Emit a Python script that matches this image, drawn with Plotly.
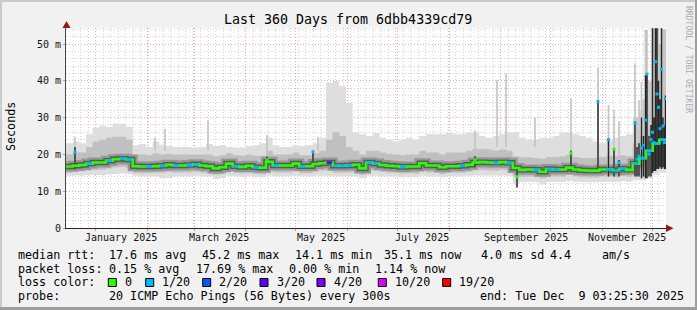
import plotly.graph_objects as go
from datetime import datetime, timedelta

# ---------------- data ----------------
START = datetime(2024, 12, 14, 3, 25, 30)
END = datetime(2025, 12, 9, 3, 25, 30)

# sample days (offset from START), 4-day steps
day = list(range(0, 361, 4))

rtt_median = [16.7, 16.9, 17.1, 17.5, 17.8, 17.8, 18.3, 18.7, 18.8, 18.6,
              16.8, 16.7, 16.7, 16.8, 16.9, 17.2, 17.0, 17.0, 17.1, 17.3,
              17.0, 16.8, 16.2, 16.5, 17.5, 16.8, 16.6, 16.9, 16.5, 16.4,
              18.0, 17.0, 17.0, 17.0, 17.5, 16.8, 16.8, 17.4, 17.6, 17.8,
              16.9, 16.9, 17.0, 17.2, 16.2, 17.8, 17.5, 17.1, 16.9, 16.8,
              16.6, 16.7, 16.7, 17.6, 17.0, 17.0, 16.5, 16.8, 16.8, 16.9,
              17.2, 17.8, 17.9, 17.8, 17.7, 17.9, 17.7, 16.3, 15.8, 15.9,
              15.8, 15.3, 16.0, 15.9, 15.9, 16.4, 15.9, 15.7, 15.6, 15.6,
              15.9, 15.9, 15.7, 16.1, 15.8, 17.5, 19.0, 21.0, 23.0, 24.0, 24.0]

rtt_hi = [23.0, 23.5, 23.0, 25.5, 27.3, 27.8, 27.5, 28.4, 28.3, 27.5,
          22.5, 22.8, 22.0, 23.5, 22.6, 22.3, 22.0, 22.0, 22.0, 21.8,
          22.0, 22.8, 22.3, 22.5, 22.0, 21.8, 21.8, 22.3, 22.5, 23.0,
          24.5, 22.5, 22.0, 22.0, 22.5, 22.3, 22.5, 23.0, 24.5, 39.5,
          40.0, 38.5, 34.0, 26.0, 25.5, 25.0, 25.8, 24.5, 24.0, 23.5,
          24.0, 24.5, 24.0, 25.0, 25.5, 25.5, 25.5, 25.8, 25.5, 25.5,
          25.8, 26.0, 25.0, 24.5, 25.0, 25.5, 26.0, 26.0, 24.5, 24.0,
          24.0, 24.5, 24.5, 25.0, 26.0, 26.0, 25.5, 25.0, 24.5, 23.5,
          23.0, 24.0, 24.5, 25.0, 25.5, 30.0, 32.0, 33.0, 34.0, 36.0, 36.0]

rtt_hi_mid = [20.0, 20.5, 20.5, 22.0, 23.5, 24.0, 24.5, 24.8, 24.8, 24.0,
              20.0, 20.0, 19.8, 20.3, 20.0, 20.2, 20.0, 20.0, 20.0, 20.0,
              20.0, 20.0, 19.5, 19.8, 20.3, 19.8, 19.6, 20.0, 19.6, 19.6,
              21.0, 20.0, 20.0, 20.0, 20.5, 19.8, 19.8, 20.3, 21.0, 24.0,
              26.0, 25.0, 22.0, 21.0, 20.0, 21.0, 21.0, 20.5, 20.2, 20.0,
              19.8, 20.0, 20.0, 21.0, 20.5, 20.5, 20.0, 20.5, 20.5, 20.5,
              21.0, 21.5, 21.5, 21.3, 21.0, 21.3, 21.0, 19.5, 19.2, 19.2,
              19.0, 18.8, 19.3, 19.2, 19.5, 20.0, 19.3, 19.0, 19.0, 19.0,
              19.3, 19.5, 19.5, 19.8, 19.5, 23.0, 25.0, 27.0, 28.0, 30.0, 30.0]

rtt_lo_mid = [15.0, 15.2, 15.4, 15.6, 15.8, 15.8, 16.2, 16.5, 16.6, 16.4,
              15.0, 14.9, 14.9, 15.0, 15.0, 15.2, 15.0, 15.1, 15.1, 15.3,
              15.1, 14.9, 14.5, 14.7, 15.5, 15.0, 14.8, 15.0, 14.7, 14.6,
              15.8, 15.1, 15.1, 15.1, 15.5, 14.9, 14.9, 15.4, 15.6, 15.6,
              15.0, 15.0, 15.1, 15.3, 14.5, 15.7, 15.5, 15.2, 15.0, 15.0,
              14.8, 14.8, 14.8, 15.5, 15.1, 15.1, 14.7, 15.0, 15.0, 15.0,
              15.3, 15.7, 15.8, 15.7, 15.6, 15.8, 15.6, 14.0, 13.9, 14.0,
              13.9, 13.5, 14.0, 14.0, 14.0, 14.4, 14.0, 13.8, 13.7, 13.7,
              14.0, 14.0, 13.8, 14.1, 13.9, 14.5, 15.0, 15.5, 16.0, 16.5, 16.5]

rtt_lo = [14.2, 14.3, 14.3, 14.4, 14.4, 14.4, 14.6, 14.7, 14.8, 14.6,
          14.2, 14.0, 14.0, 14.0, 13.5, 13.6, 14.0, 14.0, 14.0, 14.2,
          14.0, 14.0, 13.3, 13.6, 14.2, 14.0, 13.8, 14.0, 13.8, 13.8,
          14.2, 14.0, 14.0, 14.0, 14.2, 14.0, 14.0, 14.2, 14.2, 14.0,
          14.0, 14.0, 14.0, 14.0, 13.5, 14.2, 14.2, 14.0, 14.0, 14.0,
          13.8, 13.8, 13.8, 14.2, 14.0, 14.0, 13.8, 14.0, 14.0, 14.0,
          14.2, 14.3, 14.3, 14.3, 14.3, 14.3, 14.2, 12.0, 12.5, 12.6,
          12.5, 11.8, 12.5, 12.5, 12.5, 12.8, 12.6, 12.5, 12.4, 12.4,
          12.6, 12.6, 12.5, 12.8, 12.6, 13.0, 13.0, 13.5, 14.5, 15.0, 15.0]

# lost pings out of 20 per sample
loss = [0, 0, 0, 1, 0, 0, 1, 0, 1, 1,
        0, 0, 1, 0, 1, 0, 1, 0, 1, 1,
        0, 0, 0, 0, 0, 1, 0, 0, 1, 0,
        0, 1, 0, 0, 0, 1, 0, 0, 0, 3,
        1, 1, 1, 0, 0, 1, 1, 0, 0, 0,
        1, 0, 0, 0, 0, 0, 0, 0, 0, 1,
        0, 0, 0, 0, 1, 0, 1, 0, 0, 0,
        1, 0, 1, 1, 0, 0, 0, 0, 0, 0,
        0, 1, 1, 1, 0, 1, 1, 1, 1, 1, 1]

# narrow spikes (single columns)
spike_day = [5.4, 53.4, 59.4, 85.2, 120.6, 148.2, 151.2, 245.4, 258.6, 264.0,
             270.6, 281.4, 303.0, 319.2, 325.5, 328.8, 331.8, 341.4, 342.6, 343.8,
             345.3, 346.5, 347.7, 348.6, 349.8, 351.0, 351.9, 352.8, 353.7, 354.6,
             355.5, 356.4, 357.3, 358.2, 359.1, 359.7]
spike_lo = [16.0, 21.0, 21.0, 21.0, 16.5, 16.8, 21.0, 16.5, 22.0, 22.0,
            11.0, 22.0, 15.5, 15.3, 14.0, 14.0, 14.0, 14.0, 14.0, 14.0,
            13.5, 14.0, 13.5, 13.5, 14.0, 14.0, 15.0, 15.5, 15.5, 16.0,
            16.0, 16.5, 16.0, 16.5, 16.0, 16.0]
spike_dark = [22.0, 0.0, 0.0, 0.0, 19.4, 20.9, 0.0, 19.5, 0.0, 0.0,
              16.0, 0.0, 21.0, 34.8, 24.4, 21.4, 18.5, 29.0, 22.0, 23.0,
              30.0, 25.0, 41.6, 42.0, 25.0, 28.0, 54.3, 30.0, 54.3, 54.3,
              40.0, 35.0, 54.3, 30.0, 28.0, 36.0]
spike_top = [24.8, 24.5, 27.0, 29.3, 25.3, 21.5, 24.8, 26.5, 40.3, 42.0,
             16.0, 30.0, 35.3, 43.5, 33.4, 32.0, 29.0, 44.8, 30.0, 34.8,
             39.7, 35.0, 53.8, 53.8, 40.0, 40.0, 54.35, 54.3, 54.35, 54.35,
             54.35, 50.0, 54.35, 54.0, 54.0, 54.0]
spike_median = [20.6, None, None, None, 18.5, 20.7, None, 18.5, None, None,
                13.9, None, 20.3, 34.3, 24.0, 21.4, 17.8, 28.5, 18.7, 19.5,
                21.7, 22.5, 29.3, 41.8, 20.1, 24.0, 26.0, 23.2, 45.2, 36.4,
                32.8, 27.0, 43.1, 27.7, 23.2, 35.1]
spike_loss = [1, 0, 0, 0, 0, 1, 0, 0, 0, 0,
              0, 0, 0, 1, 1, 0, 1, 1, 1, 1,
              1, 1, 1, 1, 1, 1, 1, 1, 1, 1,
              1, 1, 1, 1, 1, 1]

loss_levels = [0, 1, 2, 3, 4, 10, 19]
loss_labels = ["0", "1/20", "2/20", "3/20", "4/20", "10/20", "19/20"]
loss_colors = ["#26ff00", "#00b8ff", "#0059ff", "#5e00ff", "#7e00ff", "#dd00ff", "#ff0000"]

y_ticks = [0, 10, 20, 30, 40, 50]
y_ticktext = ["0", "10 m", "20 m", "30 m", "40 m", "50 m"]
x_label_dates = ["2025-01-16", "2025-03-16", "2025-05-16", "2025-07-16", "2025-09-16", "2025-11-16"]
x_label_text = ["January 2025", "March 2025", "May 2025", "July 2025", "September 2025", "November 2025"]

# ---------------- layout helpers ----------------
W, H = 697, 310
L, T, PW, PH = 66, 28, 600, 200
YMAX = 54.35
FONT = "DejaVu Sans Mono"


def px(x):
    return (x - L) / PW


def py(y):
    return (T + PH - y) / PH


def tday(d):
    return START + timedelta(days=d)


def loss_color(n):
    c = loss_colors[0]
    for lv, col in zip(loss_levels, loss_colors):
        if n >= lv:
            c = col
    return c


xs = [tday(d) for d in day]
fig = go.Figure()


def band(lo, hi, color):
    fig.add_trace(go.Scatter(x=xs, y=lo, mode="lines", line=dict(width=0, shape="hv"),
                             hoverinfo="skip", showlegend=False))
    fig.add_trace(go.Scatter(x=xs, y=hi, mode="lines", line=dict(width=0, shape="hv"),
                             fill="tonexty", fillcolor=color, hoverinfo="skip", showlegend=False))


band(rtt_lo, rtt_hi, "#DEDEDE")
band(rtt_lo_mid, rtt_hi_mid, "#C0C0C0")

# dark smoke around the median
fig.add_trace(go.Scatter(x=xs, y=rtt_median, mode="lines",
                         line=dict(color="#969696", width=10, shape="hv"),
                         hoverinfo="skip", showlegend=False))
fig.add_trace(go.Scatter(x=xs, y=rtt_median, mode="lines",
                         line=dict(color="#5A5A5A", width=5.5, shape="hv"),
                         hoverinfo="skip", showlegend=False))


def rects(bottoms, tops, half=0.5):
    X, Y = [], []
    for d, b, tp in zip(spike_day, bottoms, tops):
        if tp <= b:
            continue
        X += [tday(d - half), tday(d - half), tday(d + half), tday(d + half), tday(d - half), None]
        Y += [b, tp, tp, b, b, None]
    return X, Y


gx, gy = rects(spike_lo, spike_top)
fig.add_trace(go.Scatter(x=gx, y=gy, mode="lines", fill="toself", fillcolor="#C4C4C4",
                         line=dict(width=0), hoverinfo="skip", showlegend=False))
dx, dy = rects(spike_lo, spike_dark, half=0.42)
fig.add_trace(go.Scatter(x=dx, y=dy, mode="lines", fill="toself", fillcolor="#262626",
                         line=dict(width=0), hoverinfo="skip", showlegend=False))

# median line (green = no loss)
fig.add_trace(go.Scatter(x=xs, y=rtt_median, mode="lines",
                         line=dict(color=loss_colors[0], width=2.6, shape="hv"),
                         hoverinfo="skip", showlegend=False))

# loss-coloured median pieces
mx = [tday(d + 2) for d, n in zip(day, loss) if n > 0]
my = [m for m, n in zip(rtt_median, loss) if n > 0]
mc = [loss_color(n) for n in loss if n > 0]
fig.add_trace(go.Scatter(x=mx, y=my, mode="markers",
                         marker=dict(symbol="line-ew", size=4, line=dict(width=2.6, color=mc)),
                         hoverinfo="skip", showlegend=False))

sx = [tday(d) for d, m in zip(spike_day, spike_median) if m is not None]
sy = [m for m in spike_median if m is not None]
sc = [loss_color(n) for m, n in zip(spike_median, spike_loss) if m is not None]
fig.add_trace(go.Scatter(x=sx, y=sy, mode="markers",
                         marker=dict(symbol="square", size=3, color=sc, line=dict(width=0)),
                         hoverinfo="skip", showlegend=False))

# ---------------- axes ----------------
fig.update_layout(
    width=W, height=H,
    margin=dict(l=L, r=W - L - PW, t=T, b=H - T - PH, pad=0),
    paper_bgcolor="#F1F1F1", plot_bgcolor="#FFFFFF",
    showlegend=False,
    xaxis=dict(type="date", range=[START, END], showline=True, linecolor="#222222", linewidth=1,
               tickmode="linear", tick0="2025-01-01", dtick="M1", showticklabels=False,
               ticks="outside", ticklen=2, tickcolor="#E08A8A",
               showgrid=True, gridcolor="#F0A4A4", griddash="1px,2px", gridwidth=1,
               minor=dict(tick0="2025-01-01", dtick=4.5 * 86400000, showgrid=True,
                          gridcolor="#D4D4D4", griddash="1px,2px", gridwidth=1, ticks=""),
               zeroline=False, fixedrange=True),
    yaxis=dict(range=[0, YMAX], tickmode="array", tickvals=y_ticks, ticktext=y_ticktext,
               tickfont=dict(family=FONT, size=10, color="#111111"),
               showline=True, linecolor="#444444", linewidth=1,
               ticks="outside", ticklen=2, tickcolor="#E08A8A",
               showgrid=True, gridcolor="#F0A4A4", griddash="1px,2px", gridwidth=1,
               minor=dict(dtick=2, showgrid=True, gridcolor="#D4D4D4", griddash="1px,2px",
                          gridwidth=1, ticks=""),
               zeroline=False, fixedrange=True),
)

ann = []
# x labels
for d, txt in zip(x_label_dates, x_label_text):
    ann.append(dict(x=d, y=py(237.5), xref="x", yref="paper", text=txt, showarrow=False,
                    xanchor="center", yanchor="middle", font=dict(family=FONT, size=10, color="#111111")))
# title
ann.append(dict(x=px(348), y=py(19), xref="paper", yref="paper", text="Last 360 Days from 6dbb4339cd79",
                showarrow=False, xanchor="center", yanchor="middle", font=dict(family=FONT, size=13.3, color="#000000")))
# y title
ann.append(dict(x=px(11), y=py(127), xref="paper", yref="paper", text="Seconds", textangle=-90,
                showarrow=False, xanchor="center", yanchor="middle", font=dict(family=FONT, size=11.7, color="#000000")))
# watermark
ann.append(dict(x=px(689), y=py(59), xref="paper", yref="paper", text="RRDTOOL / TOBI OETIKER", textangle=90,
                showarrow=False, xanchor="center", yanchor="middle", font=dict(family=FONT, size=8.1, color="#ABABAB")))

legend_items = [
    (254.5, [(16, "median rtt:"), (107.3, "17.6 ms avg"), (200, "45.2 ms max"), (293.3, "14.1 ms min"),
             (382, "35.1 ms now"), (479, "4.0 ms sd"), (548, "4.4"), (600, "am/s")]),
    (268.5, [(16, "packet loss:"), (107.3, "0.15 % avg"), (194, "17.69 % max"), (286.7, "0.00 % min"),
             (372.7, "1.14 % now")]),
    (282.2, [(16, "loss color:")]),
    (296.0, [(16, "probe:"), (107.3, "20 ICMP Echo Pings (56 Bytes) every 300s"),
             (478, "end: Tue Dec  9 03:25:30 2025")]),
]
for yy, items in legend_items:
    for xx, txt in items:
        ann.append(dict(x=px(xx), y=py(yy), xref="paper", yref="paper", text=txt, showarrow=False,
                        xanchor="left", yanchor="middle", font=dict(family=FONT, size=11.7, color="#000000")))

box_x = [108.3, 145.7, 202.7, 260, 317, 378.3, 442.7]
shapes = []
for bx, lab, col in zip(box_x, loss_labels, loss_colors):
    shapes.append(dict(type="rect", xref="paper", yref="paper", x0=px(bx), x1=px(bx + 8),
                       y0=py(286.5), y1=py(278.5), fillcolor=col, line=dict(color="#000000", width=1), layer="above"))
    ann.append(dict(x=px(bx + 14.5), y=py(282.2), xref="paper", yref="paper", text=lab, showarrow=False,
                    xanchor="left", yanchor="middle", font=dict(family=FONT, size=11.7, color="#000000")))

# arrows at axis ends
shapes.append(dict(type="path", xref="paper", yref="paper",
                   path=f"M {px(62.5)},{py(28)} L {px(70.5)},{py(28)} L {px(66.5)},{py(21)} Z",
                   fillcolor="#8B1A1A", line=dict(width=0), layer="above"))
shapes.append(dict(type="path", xref="paper", yref="paper",
                   path=f"M {px(666)},{py(224.5)} L {px(666)},{py(232)} L {px(673.5)},{py(228.2)} Z",
                   fillcolor="#8B1A1A", line=dict(width=0), layer="above"))
# outer frame
shapes.append(dict(type="rect", xref="paper", yref="paper", x0=px(0), x1=px(2), y0=py(310), y1=py(0),
                   fillcolor="#CBCBCB", line=dict(width=0), layer="above"))
shapes.append(dict(type="rect", xref="paper", yref="paper", x0=px(0), x1=px(697), y0=py(2), y1=py(0),
                   fillcolor="#CBCBCB", line=dict(width=0), layer="above"))
shapes.append(dict(type="rect", xref="paper", yref="paper", x0=px(695), x1=px(697), y0=py(310), y1=py(0),
                   fillcolor="#9E9E9E", line=dict(width=0), layer="above"))
shapes.append(dict(type="rect", xref="paper", yref="paper", x0=px(0), x1=px(697), y0=py(310), y1=py(307),
                   fillcolor="#9E9E9E", line=dict(width=0), layer="above"))

fig.update_layout(annotations=ann, shapes=shapes)
fig.write_html("out.html", config={"displayModeBar": False})
